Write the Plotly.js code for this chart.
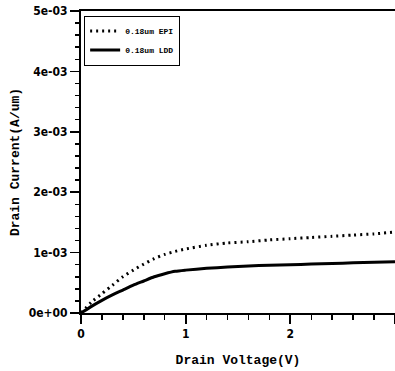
<!DOCTYPE html>
<html>
<head>
<meta charset="utf-8">
<script src="https://cdn.plot.ly/plotly-3.0.1.min.js"></script>
<style>html,body{margin:0;padding:0;background:#fff;}#chart{width:395px;height:371px;}</style>
</head>
<body>
<div id="chart"></div>
<script>
// Drain voltage (V)
const voltage = [0, 0.1, 0.2, 0.3, 0.4, 0.5, 0.6, 0.7, 0.8, 0.9, 1.0, 1.2, 1.4, 1.6, 1.8, 2.0, 2.2, 2.4, 2.6, 2.8, 3.0];
// Drain current (A/um)
const currentEPI = [0, 0.18e-3, 0.32e-3, 0.46e-3, 0.60e-3, 0.71e-3, 0.81e-3, 0.90e-3, 0.97e-3, 1.02e-3, 1.06e-3, 1.12e-3, 1.16e-3, 1.18e-3, 1.21e-3, 1.23e-3, 1.25e-3, 1.27e-3, 1.29e-3, 1.31e-3, 1.34e-3];
const currentLDD = [0, 0.11e-3, 0.21e-3, 0.30e-3, 0.38e-3, 0.46e-3, 0.53e-3, 0.60e-3, 0.65e-3, 0.69e-3, 0.71e-3, 0.74e-3, 0.76e-3, 0.78e-3, 0.79e-3, 0.80e-3, 0.81e-3, 0.82e-3, 0.83e-3, 0.84e-3, 0.85e-3];
const seriesNames = ["0.18um EPI", "0.18um LDD"];
const yTickVals = [0, 1e-3, 2e-3, 3e-3, 4e-3, 5e-3];
const yTickText = ["0e+00", "1e-03", "2e-03", "3e-03", "4e-03", "5e-03"];
const xTickVals = [0, 1, 2, 3];
const xTickText = ["0", "1", "2", "3"];

const tickFont = {family: "'Liberation Sans Narrow', 'DejaVu Sans Condensed', 'Liberation Sans', sans-serif", size: 12, color: "#000", weight: "bold"};
const monoFont = {family: "'Liberation Mono', 'DejaVu Sans Mono', monospace", size: 13, color: "#000", weight: "bold"};

const traces = [
  {x: voltage, y: currentEPI, name: seriesNames[0], mode: "lines",
   line: {color: "#000", width: 3, dash: "2px,4px", shape: "spline", smoothing: 0.6}},
  {x: voltage, y: currentLDD, name: seriesNames[1], mode: "lines",
   line: {color: "#000", width: 3, shape: "spline", smoothing: 0.6}}
];

const layout = {
  width: 395, height: 371,
  margin: {l: 81, r: 0, t: 11, b: 58},
  paper_bgcolor: "#fff", plot_bgcolor: "#fff",
  showlegend: true,
  legend: {x: 0.01, y: 0.985, xanchor: "left", yanchor: "top",
           bgcolor: "#fff", bordercolor: "#000", borderwidth: 1,
           font: {family: monoFont.family, size: 8, color: "#000", weight: "bold"},
           itemwidth: 30, tracegroupgap: 0},
  xaxis: {
    range: [0, 3], showgrid: false, zeroline: false,
    showline: true, linecolor: "#000", linewidth: 2, mirror: true,
    ticks: "outside", ticklen: 9, tickwidth: 2, tickcolor: "#000",
    tickvals: xTickVals, ticktext: xTickText, tickfont: tickFont,
    minor: {dtick: 0.2, tick0: 0, ticks: "outside", ticklen: 5, tickwidth: 1.5, tickcolor: "#000", showgrid: false},
    title: {text: "Drain Voltage(V)", font: monoFont, standoff: 14}
  },
  yaxis: {
    range: [0, 5e-3], showgrid: false, zeroline: false,
    showline: true, linecolor: "#000", linewidth: 2, mirror: false,
    ticks: "outside", ticklen: 9, tickwidth: 1.5, tickcolor: "#000",
    tickvals: yTickVals, ticktext: yTickText, tickfont: tickFont,
    minor: {dtick: 0.2e-3, tick0: 0, ticks: "outside", ticklen: 4, tickwidth: 1.5, tickcolor: "#000", showgrid: false},
    title: {text: "Drain Current(A/um)", font: monoFont, standoff: 6}
  }
};

Plotly.newPlot("chart", traces, layout, {displayModeBar: false, staticPlot: true});
</script>
</body>
</html>
